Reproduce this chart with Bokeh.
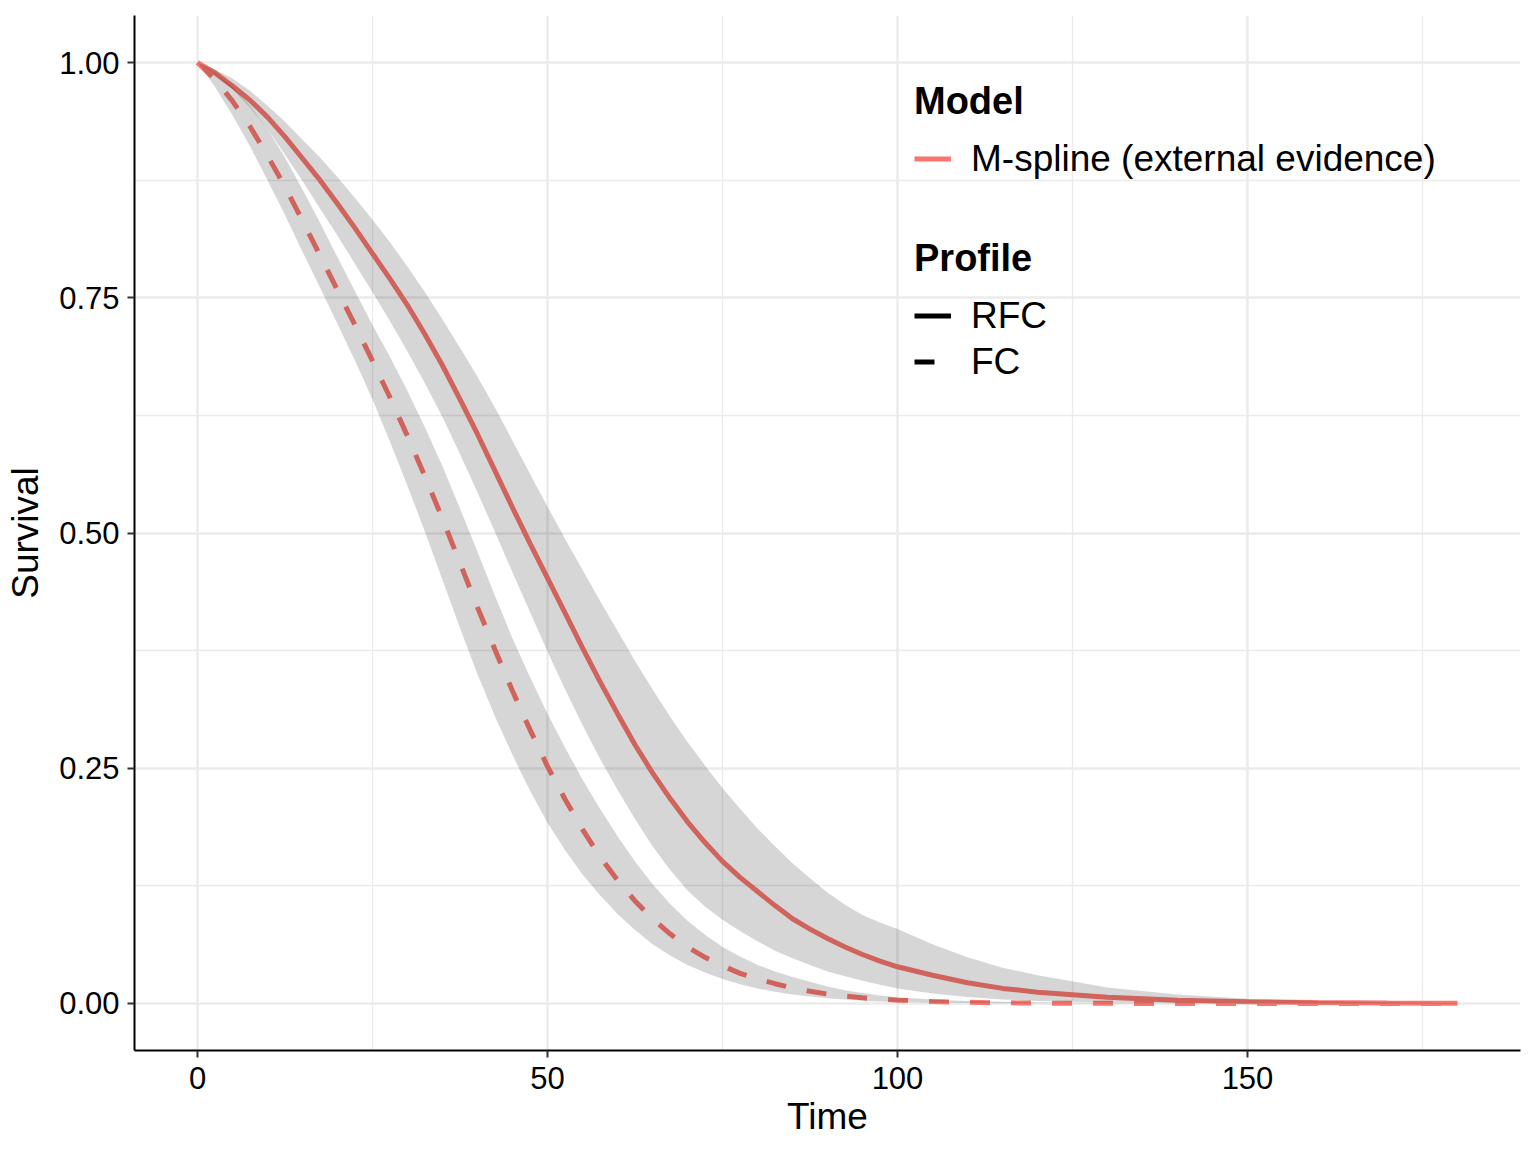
import numpy as np
from bokeh.plotting import figure
from bokeh.models import (Range1d, FixedTicker, NumeralTickFormatter, Legend,
                          LegendItem, ColumnDataSource)
from bokeh.embed import file_html
from bokeh.resources import INLINE

# ---- data ----
time = [0, 2.5, 5, 7.5, 10, 12.5, 15, 17.5, 20, 22.5, 25, 27.5, 30, 32.5, 35, 37.5,
        40, 42.5, 45, 47.5, 50, 52.5, 55, 57.5, 60, 62.5, 65, 67.5, 70, 72.5, 75,
        77.5, 80, 82.5, 85, 87.5, 90, 92.5, 95, 97.5, 100,
        105, 110, 115, 120, 130, 140, 150, 160, 170, 180]

rfc_mean = [1.000, 0.989, 0.975, 0.960, 0.942, 0.921, 0.898, 0.875, 0.850, 0.824,
            0.797, 0.770, 0.742, 0.711, 0.678, 0.642, 0.605, 0.566, 0.527, 0.489,
            0.452, 0.415, 0.378, 0.342, 0.308, 0.275, 0.245, 0.218, 0.193, 0.171,
            0.151, 0.134, 0.119, 0.104, 0.090, 0.079, 0.069, 0.060, 0.052, 0.045,
            0.039,
            0.030, 0.022, 0.016, 0.012, 0.0065, 0.0035, 0.0018, 0.0009, 0.0005, 0.0002]
rfc_upper = [1.000, 0.993, 0.983, 0.970, 0.954, 0.937, 0.918, 0.899, 0.878, 0.856,
             0.833, 0.809, 0.783, 0.756, 0.727, 0.697, 0.666, 0.633, 0.598, 0.563,
             0.528, 0.494, 0.461, 0.428, 0.396, 0.364, 0.334, 0.305, 0.278, 0.253,
             0.229, 0.207, 0.186, 0.167, 0.149, 0.133, 0.118, 0.105, 0.094, 0.086,
             0.079,
             0.063, 0.049, 0.038, 0.030, 0.017, 0.0095, 0.005, 0.0025, 0.0012, 0.0006]
rfc_lower = [1.000, 0.988, 0.972, 0.952, 0.929, 0.902, 0.874, 0.845, 0.816, 0.786,
             0.756, 0.725, 0.693, 0.659, 0.623, 0.584, 0.543, 0.501, 0.458, 0.416,
             0.374, 0.334, 0.296, 0.260, 0.227, 0.196, 0.167, 0.142, 0.120, 0.103,
             0.089, 0.077, 0.066, 0.056, 0.048, 0.041, 0.034, 0.029, 0.024, 0.020,
             0.016,
             0.0105, 0.0068, 0.0043, 0.0027, 0.001, 0.0004, 0.0001, 0.0, 0.0, 0.0]

fc_mean = [1.000, 0.982, 0.959, 0.932, 0.901, 0.868, 0.832, 0.795, 0.758, 0.721,
           0.683, 0.644, 0.603, 0.560, 0.515, 0.468, 0.421, 0.376, 0.332, 0.291,
           0.252, 0.217, 0.185, 0.156, 0.131, 0.109, 0.090, 0.074, 0.060, 0.049,
           0.040, 0.032, 0.026, 0.021, 0.0165, 0.013, 0.010, 0.0078, 0.006, 0.0046,
           0.0035,
           0.002, 0.0012, 0.0007, 0.0004, 0.0001, 0.00005, 0.0, 0.0, 0.0, 0.0]
fc_upper = [1.000, 0.989, 0.974, 0.954, 0.929, 0.899, 0.865, 0.830, 0.793, 0.757,
            0.721, 0.687, 0.651, 0.612, 0.571, 0.526, 0.480, 0.433, 0.388, 0.347,
            0.308, 0.272, 0.238, 0.207, 0.178, 0.151, 0.127, 0.106, 0.088, 0.073,
            0.060, 0.050, 0.041, 0.034, 0.028, 0.023, 0.018, 0.014, 0.011, 0.0085,
            0.0065,
            0.0042, 0.0027, 0.0017, 0.001, 0.0004, 0.0001, 0.0, 0.0, 0.0, 0.0]
fc_lower = [1.000, 0.974, 0.944, 0.911, 0.875, 0.838, 0.799, 0.761, 0.722, 0.683,
            0.642, 0.597, 0.550, 0.501, 0.450, 0.399, 0.350, 0.305, 0.264, 0.226,
            0.192, 0.163, 0.137, 0.115, 0.095, 0.078, 0.063, 0.051, 0.041, 0.033,
            0.026, 0.0205, 0.016, 0.0124, 0.0095, 0.0073, 0.0055, 0.0041, 0.003,
            0.0021, 0.0015,
            0.0008, 0.0004, 0.0002, 0.0001, 0.0, 0.0, 0.0, 0.0, 0.0, 0.0]

x_major = [0, 50, 100, 150]
x_minor = [25, 75, 125, 175]
y_major = [0.0, 0.25, 0.5, 0.75, 1.0]
y_minor = [0.125, 0.375, 0.625, 0.875]

model_label = "M-spline (external evidence)"
profile_labels = ["RFC", "FC"]

FONT = "Liberation Sans"
RED = "#F8766D"
DASH = "20 21"

p = figure(width=1528, height=1144, output_backend="svg", toolbar_location=None,
           x_range=Range1d(-9, 189), y_range=Range1d(-0.05, 1.05),
           min_border_left=134, min_border_right=8, min_border_top=15,
           min_border_bottom=94)
p.outline_line_color = None
p.background_fill_color = "white"
p.border_fill_color = "white"

src = ColumnDataSource(dict(t=time, rfc_mean=rfc_mean, rfc_lower=rfc_lower,
                            rfc_upper=rfc_upper, fc_mean=fc_mean,
                            fc_lower=fc_lower, fc_upper=fc_upper))

r_rfc = p.line("t", "rfc_mean", source=src, line_color=RED, line_width=5)
r_fc = p.line("t", "fc_mean", source=src, line_color=RED, line_width=5,
              line_dash=DASH)
p.varea(x="t", y1="rfc_lower", y2="rfc_upper", source=src,
        fill_color="black", fill_alpha=0.16)
p.varea(x="t", y1="fc_lower", y2="fc_upper", source=src,
        fill_color="black", fill_alpha=0.16)

# key-only renderers for the Profile legend (draw nothing in the plot)
blank = ColumnDataSource(dict(x=np.array([np.nan, np.nan]),
                              y=np.array([np.nan, np.nan])))
d_solid = p.line("x", "y", source=blank, line_color="black", line_width=5)
d_dash = p.line("x", "y", source=blank, line_color="black", line_width=5,
                line_dash=DASH)

# axes
p.xaxis.ticker = FixedTicker(ticks=x_major, minor_ticks=x_minor)
p.yaxis.ticker = FixedTicker(ticks=y_major, minor_ticks=y_minor)
p.yaxis.formatter = NumeralTickFormatter(format="0.00")
p.xaxis.axis_label = "Time"
p.yaxis.axis_label = "Survival"
for ax in (p.xaxis[0], p.yaxis[0]):
    ax.axis_line_color = "black"
    ax.axis_line_width = 2
    ax.major_tick_line_color = "#333333"
    ax.major_tick_line_width = 2
    ax.major_tick_out = 7
    ax.major_tick_in = 0
    ax.minor_tick_line_color = None
    ax.major_label_text_font = FONT
    ax.major_label_text_font_size = "31px"
    ax.major_label_text_color = "black"
    ax.axis_label_text_font = FONT
    ax.axis_label_text_font_size = "37px"
    ax.axis_label_text_font_style = "normal"
    ax.axis_label_text_color = "black"
p.xaxis.major_label_standoff = 9
p.yaxis.major_label_standoff = 8
p.xaxis.axis_label_standoff = 4
p.yaxis.axis_label_standoff = 10

for g in (p.xgrid[0], p.ygrid[0]):
    g.grid_line_color = "#EBEBEB"
    g.grid_line_width = 2.5
    g.minor_grid_line_color = "#EBEBEB"
    g.minor_grid_line_width = 1.3

# legends
leg_model = Legend(items=[LegendItem(label=model_label, renderers=[r_rfc])],
                   title="Model", location=(780, 870))
leg_prof = Legend(items=[LegendItem(label=profile_labels[0], renderers=[d_solid]),
                         LegendItem(label=profile_labels[1], renderers=[d_dash])],
                  title="Profile", location=(780, 667))
for lg in (leg_model, leg_prof):
    lg.title_text_font = FONT
    lg.title_text_font_size = "38px"
    lg.title_text_font_style = "bold"
    lg.title_text_color = "black"
    lg.label_text_font = FONT
    lg.label_text_font_size = "37px"
    lg.label_text_color = "black"
    lg.border_line_color = None
    lg.background_fill_alpha = 0
    lg.padding = 0
    lg.margin = 0
    lg.spacing = 3
    lg.glyph_width = 37
    lg.glyph_height = 43
    lg.label_height = 43
    lg.label_standoff = 20
    lg.title_standoff = 14
    p.add_layout(lg)

open("out.html", "w").write(file_html(p, INLINE))
